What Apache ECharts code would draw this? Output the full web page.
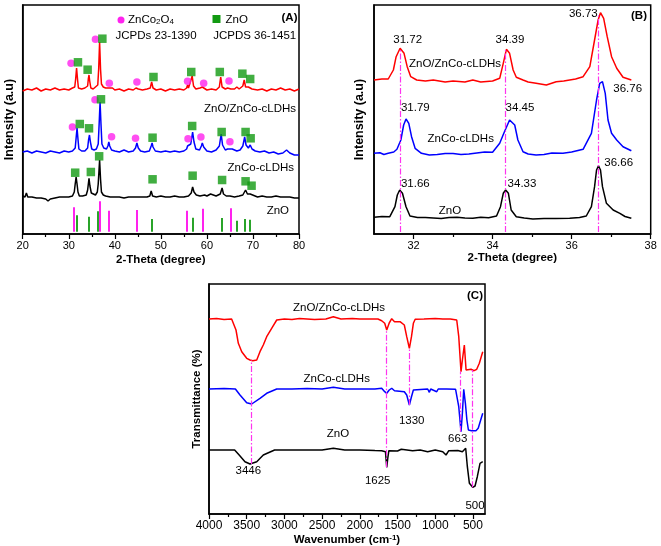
<!DOCTYPE html>
<html><head><meta charset="utf-8">
<script src="https://cdn.jsdelivr.net/npm/echarts@6/dist/echarts.min.js"></script>
<style>html,body{margin:0;padding:0;background:#fff}#c{width:661px;height:546px}</style>
</head><body><div id="c"></div>
<script>
// ---------- Panel A : XRD 20-80 ----------
const ticksA = [20,30,40,50,60,70,80];
const redA = [20,143, 21,145, 22,144, 23,146, 24,143, 25,145, 26,144, 27,146, 28,144, 29,145, 30,144, 30.8,146, 31.3,147, 31.5,155, 31.7,166, 31.9,155, 32.1,146, 32.8,145, 33.5,146, 34.1,148, 34.25,155, 34.4,159, 34.55,153, 34.8,146, 35.3,145, 35.8,147, 36.3,149, 36.5,165, 36.7,192, 36.9,165, 37.1,150, 37.5,147, 38.0,146, 38.5,146, 38.7,148, 38.9,145, 39.5,146, 40,144, 41,145, 42,143, 43,145, 44,144, 44.6,146, 44.8,147, 45.1,145, 46,144, 47,145, 47.7,146, 48.0,152, 48.3,146, 49,144, 50,145, 51,143, 52,145, 53,144, 54,145, 55,144, 55.6,146, 55.8,149, 56.0,146, 56.4,148, 56.8,158, 57.1,148, 57.6,145, 58.5,146, 59.0,147, 59.4,145, 60,144, 61,145, 62,144, 62.7,147, 63.0,157, 63.3,147, 64,145, 64.5,146, 64.8,147, 65.2,145, 66,145, 66.5,147, 67,145, 67.8,148, 68.1,154, 68.4,147, 69.0,147, 69.4,149, 69.8,145, 71,144, 72,145, 73,143, 74,145, 75,144, 76,146, 77,144, 78,145, 79,143, 80,145];
const blueA = [20,82, 21,83, 22,81, 23,83, 24,82, 25,81, 26,83, 27,82, 28,81, 29,83, 30,82, 30.8,83, 31.4,86, 31.6,96, 31.8,106, 32.0,95, 32.2,85, 32.8,83, 33.5,83, 34.1,86, 34.3,94, 34.5,99, 34.7,92, 35.0,85, 35.5,84, 36.0,85, 36.4,90, 36.6,110, 36.8,132, 37.0,110, 37.2,90, 37.6,86, 38.2,85, 38.5,88, 38.7,92, 38.9,88, 39.3,84, 40,83, 41,82, 42,84, 43,82, 44,83, 44.5,86, 44.8,91, 45.1,86, 45.6,83, 46.5,82, 47.5,83, 47.9,88, 48.1,91, 48.3,87, 48.8,83, 50,82, 51,83, 52,82, 53,83, 54,82, 55,83, 55.6,85, 55.8,88, 56.1,86, 56.5,90, 56.9,102, 57.2,92, 57.6,85, 58.4,84, 58.8,88, 59.0,91, 59.3,87, 60,83, 61,82, 62,84, 62.7,88, 63.1,100, 63.4,89, 64,84, 64.5,85, 64.9,86, 65.5,85, 66,84, 66.5,83, 67.2,84, 67.8,88, 68.2,97, 68.5,89, 69.0,86, 69.4,89, 69.8,85, 70.5,83, 71.5,82, 72.5,83, 73.5,81, 74.5,82, 75.5,80, 76.5,81, 77.3,84, 78,81, 79,79, 80,79];
const blackA = [20,38, 20.5,37, 20.8,41, 21.1,37, 22,37, 23,36, 24,36, 25,35, 25.5,33, 26,35, 27,36, 28,37, 29,37, 30,37, 30.8,38, 31.2,42, 31.4,50, 31.6,57, 31.8,50, 32.0,42, 32.3,38, 33,38, 33.8,39, 34.1,44, 34.4,55.7, 34.6,48, 34.9,41, 35.3,39, 35.8,39, 36.2,42, 36.4,50, 36.7,74, 36.9,55, 37.1,42, 37.5,39, 38,38, 39,37, 40,37, 41,37, 42,36, 43,37, 44,37, 45,37, 46,37, 47,37, 47.6,38, 47.9,43, 48.2,38, 49,37, 50,38, 51,37, 52,37, 53,38, 54,37, 55,37, 56,38, 56.6,41, 56.9,47, 57.2,42, 57.7,39, 58.5,38, 59.5,39, 60,38, 60.8,40, 61.2,38, 62,38, 62.9,40, 63.3,46, 63.6,40, 64.2,38, 65,38, 66,37, 67,38, 67.8,39, 68.4,44, 68.8,40, 69.4,40, 69.8,38, 71,37, 72,38, 73,37, 74,37, 75,38, 76,37, 77,37, 78,37, 79,36, 80,36];
// reference sticks
const stickBase = 2.3;
const magStickX = [31.1, 36.8, 38.6, 44.8, 55.6, 59.2, 65.1];
const magStickH = [26.7, 32.7, 23.3, 24.0, 23.3, 25.3, 25.7];
const grnStickX = [31.7, 34.4, 36.3, 48.0, 56.9, 63.3, 66.5, 68.2, 69.2];
const grnStickH = [18.7, 17.3, 22.7, 15.0, 16.3, 16.0, 13.3, 15.0, 14.3];
// phase markers (x, y)
const circRed = [30.5,170.7, 35.8,194.7, 38.8,150.7, 44.8,152, 55.8,152.7, 59.3,150.7, 64.8,153];
const sqRed = [32.0,171.7, 34.1,164.3, 37.3,195.3, 48.4,157, 56.6,162, 62.8,162, 67.7,160.3, 69.4,155];
const circBlue = [30.8,107, 35.7,134.3, 39.3,97.3, 44.5,95.7, 55.9,95.3, 58.7,97, 65.0,92.3];
const sqBlue = [32.4,110, 34.4,105.7, 37.0,134.7, 48.2,96.3, 56.8,108, 63.2,102, 68.4,102, 69.5,95.7];
const sqBlack = [31.4,61.3, 34.8,62, 36.6,77.7, 48.2,54.7, 56.9,58.3, 63.3,54, 68.4,52.7, 69.7,48.3];

// ---------- Panel B : XRD zoom 31-38 ----------
const ticksB = [32, 34, 36, 38];
const minorB = [33, 35, 37];
const redB = [31.0,154, 31.2,155, 31.36,155, 31.49,164, 31.56,177.3, 31.66,185.7, 31.76,180.7, 31.84,167.3, 31.93,157.3, 32.08,154, 32.3,153, 32.5,154, 32.8,152, 33.0,153, 33.3,152, 33.5,154, 33.7,152, 34.0,153, 34.18,155.7, 34.27,170.7, 34.35,184.7, 34.43,180.7, 34.52,164, 34.60,156.7, 34.77,154, 34.9,152, 35.1,150.7, 35.36,149, 35.61,152.3, 35.8,153, 35.95,154, 36.1,155, 36.29,157.3, 36.46,167.3, 36.58,194, 36.67,214, 36.73,221.3, 36.81,215.7, 36.90,197.3, 37.01,177.3, 37.14,165.7, 37.30,156.7, 37.51,154];
const blueB = [31.0,80.7, 31.15,81.3, 31.25,79.5, 31.36,80.7, 31.5,82, 31.58,84.7, 31.68,94, 31.75,109, 31.81,115, 31.88,110.7, 31.95,97.3, 32.04,85.7, 32.2,80.7, 32.4,79, 32.6,79.5, 32.8,80.5, 33.0,80.5, 33.2,79.5, 33.4,80, 33.6,81, 33.8,82, 34.0,81.7, 34.18,90.7, 34.3,102.3, 34.43,114, 34.47,115, 34.56,109, 34.64,94, 34.77,82.3, 34.9,80, 35.1,79, 35.3,79.5, 35.5,81, 35.78,80.7, 36.0,82, 36.29,84.7, 36.5,100.7, 36.63,134, 36.71,150.7, 36.78,152.3, 36.85,140.7, 36.92,114, 37.01,100.7, 37.14,94, 37.30,87.3, 37.51,83.3];
const blackB = [31.0,16.7, 31.2,17.5, 31.40,17.3, 31.53,27.3, 31.59,39, 31.65,44, 31.72,40.7, 31.81,27.3, 31.91,18, 32.1,16.5, 32.3,16.5, 32.5,16, 32.7,15.5, 32.9,16.5, 33.1,16.7, 33.3,16, 33.5,15.8, 33.7,16.8, 33.9,16.3, 34.1,18, 34.2,27.3, 34.27,40.7, 34.33,44, 34.40,40.7, 34.47,24, 34.6,17.3, 34.8,16, 35.02,15, 35.3,15.5, 35.6,15.5, 35.95,15.7, 36.2,16.5, 36.37,18, 36.5,27.3, 36.58,47.3, 36.63,64, 36.68,68.3, 36.73,64, 36.78,47.3, 36.88,30.7, 37.05,24, 37.22,20.7, 37.35,17.5, 37.51,15.7];
const guideB = [[31.66, 2, 185], [34.33, 2, 184], [36.67, 2, 220]];

// ---------- Panel C : FTIR ----------
const ticksC = [4000, 3500, 3000, 2500, 2000, 1500, 1000, 500];
const minorC = [3750, 3250, 2750, 2250, 1750, 1250, 750];
const redC = [4000,195, 3900,195.5, 3800,194.5, 3700,195, 3680,194.7, 3642,184, 3611,170.7, 3566,162.3, 3500,155.7, 3456,154, 3420,153.3, 3367,154, 3324,162.3, 3280,169, 3235,177.3, 3169,185.7, 3102,194, 3000,195, 2900,194.5, 2800,195.5, 2700,195, 2600,194.5, 2450,195, 2351,197.3, 2250,195, 2100,195.5, 2000,195, 1900,195, 1760,195, 1710,193.3, 1670,190.7, 1643,184, 1610,191, 1577,195.3, 1540,192.3, 1467,192.3, 1410,189, 1378,177.3, 1343,165.7, 1315,177.3, 1290,190.7, 1266,194.7, 1150,195, 1000,195.5, 900,195, 800,195, 715,194, 688,177.3, 658,142.3, 640,154, 614,169, 591,144, 570,142.3, 525,144.7, 485,143.3, 450,144.7, 415,150.7, 370,162.3];
const blueC = [4000,125, 3800,125.5, 3650,125, 3589,119, 3500,111.3, 3434,110, 3324,115.7, 3235,120.7, 3102,125, 2900,125, 2700,125.5, 2500,125, 2351,126.7, 2200,125, 2000,125, 1800,125, 1710,125.7, 1670,122.3, 1643,120.7, 1610,124, 1577,125.7, 1540,123.3, 1410,122.3, 1378,119, 1343,109, 1315,117.3, 1290,124, 1266,124.7, 1100,125, 1078,121.7, 1060,125, 980,122.3, 960,125, 850,125, 730,124.7, 715,124, 688,107.3, 658,82.3, 640,100.7, 622,124.7, 600,110.7, 580,94, 560,84, 520,83.3, 460,83.3, 430,85.7, 410,90.7, 370,100.7];
const blackC = [4000,64, 3800,64, 3660,64, 3600,59, 3523,52.3, 3456,50, 3367,52.3, 3280,59, 3130,64, 2900,64, 2700,64, 2500,64, 2351,65.7, 2200,64, 2000,64, 1800,63.5, 1710,63.3, 1660,62.3, 1655,57.3, 1643,46.7, 1630,55.3, 1615,63.3, 1500,63, 1450,64.7, 1300,63.3, 1200,64, 1100,62.3, 1000,64, 900,62.3, 857,59, 820,63.3, 700,63.5, 640,62.3, 596,65.7, 574,47.3, 547,30.7, 503,26.7, 472,28, 442,37.3, 406,50.7, 370,52.3];
const guideC = [[3434, 50, 154], [1643, 46.7, 184], [1343, 109, 165.7], [662, 82.3, 142.3], [503, 26.7, 144]];

// ---------- helpers ----------
const pairs = a => { const r = []; for (let i = 0; i < a.length; i += 2) r.push([a[i], a[i+1]]); return r; };
const FONT = 'Arial, "Liberation Sans", sans-serif';
const RED = '#ff0000', BLUE = '#0000ff', BLACK = '#000000', MAG = '#ff22ee', GRN = '#129a12', DASH = '#ff33ee';

function curve(data, color, xi, yi) {
  return { type: 'line', data: pairs(data), xAxisIndex: xi, yAxisIndex: yi, showSymbol: false, symbol: 'none',
    lineStyle: { color: color, width: 1.5 }, itemStyle: { color: color }, z: 3, silent: true };
}
function scat(data, symbol, color, xi, yi, size) {
  return { type: 'scatter', data: pairs(data), xAxisIndex: xi, yAxisIndex: yi, symbol: symbol, symbolSize: size,
    itemStyle: { color: color }, z: 5, silent: true };
}
function vlines(list, color, width, type, xi, yi) {
  return { type: 'line', data: [], xAxisIndex: xi, yAxisIndex: yi, silent: true, z: 2,
    markLine: { silent: true, symbol: ['none', 'none'], label: { show: false }, animation: false,
      lineStyle: { color: color, width: width, type: type },
      data: list.map(v => [{ coord: [v[0], v[1]] }, { coord: [v[0], v[2]] }]) } };
}
const sticksMag = magStickX.map((x, i) => [x, stickBase, magStickH[i]]);
const sticksGrn = grnStickX.map((x, i) => [x, stickBase, grnStickH[i]]);
const dashDot = [6, 2, 1.5, 2];

const axisLineS = { show: true, lineStyle: { color: '#000', width: 1.5 } };
const nameStyle = { fontFamily: FONT, fontWeight: 'bold', fontSize: 11.5, color: '#000' };
const labStyle = { fontFamily: FONT, fontSize: 11, color: '#000', margin: 6, formatter: v => String(v) };

function mkText(t, x, y, opts) {
  return Object.assign({ type: 'text', silent: true, z: 10,
    style: Object.assign({ text: t, x: x, y: y, fill: '#000', font: '11.5px ' + FONT, align: 'center', verticalAlign: 'middle' }, opts || {}) });
}

const option = {
  animation: false,
  backgroundColor: '#fff',
  grid: [
    { left: 22.7, right: 362, top: 5, bottom: 312, show: true, borderColor: '#000', borderWidth: 1.5, containLabel: false, outerBoundsMode: 'none' },
    { left: 374, right: 10.3, top: 5, bottom: 312, show: true, borderColor: '#000', borderWidth: 1.5, containLabel: false, outerBoundsMode: 'none' },
    { left: 209, right: 176, top: 284, bottom: 32, show: true, borderColor: '#000', borderWidth: 1.5, containLabel: false, outerBoundsMode: 'none' }
  ],
  xAxis: [
    { gridIndex: 0, type: 'value', min: ticksA[0], max: ticksA[ticksA.length-1], interval: 10, position: 'bottom',
      axisLine: axisLineS, axisTick: { show: true, inside: false, length: 5, lineStyle: { color: '#000', width: 1.2 } },
      minorTick: { show: true, splitNumber: 2, length: 3, lineStyle: { color: '#000', width: 1.2 } },
      axisLabel: labStyle, splitLine: { show: false }, minorSplitLine: { show: false },
      name: '2-Theta (degree)', nameLocation: 'middle', nameGap: 20, nameTextStyle: nameStyle },
    { gridIndex: 1, type: 'value', min: 31, max: 38, position: 'bottom',
      axisLine: axisLineS, axisTick: { show: true, length: 5, customValues: ticksB, lineStyle: { color: '#000', width: 1.2 } },
      axisLabel: Object.assign({ customValues: ticksB }, labStyle), splitLine: { show: false },
      name: '2-Theta (degree)', nameLocation: 'middle', nameGap: 18, nameTextStyle: nameStyle },
    { gridIndex: 1, type: 'value', min: 31, max: 38, position: 'bottom',
      axisLine: { show: false }, axisTick: { show: true, length: 3, customValues: minorB, lineStyle: { color: '#000', width: 1.2 } },
      axisLabel: { show: false }, splitLine: { show: false } },
    { gridIndex: 2, type: 'value', min: 340, max: 4000, inverse: true, position: 'bottom',
      axisLine: axisLineS, axisTick: { show: true, length: 5, customValues: ticksC, lineStyle: { color: '#000', width: 1.2 } },
      axisLabel: Object.assign({ customValues: ticksC }, labStyle, { fontSize: 12, margin: 6 }), splitLine: { show: false },
      name: 'Wavenumber (cm{sup|-1})', nameLocation: 'middle', nameGap: 20,
      nameTextStyle: Object.assign({}, nameStyle, { rich: { sup: { fontFamily: FONT, fontWeight: 'bold', fontSize: 8, verticalAlign: 'top', lineHeight: 8, padding: [0, 0, 6, 0] } } }) },
    { gridIndex: 2, type: 'value', min: 340, max: 4000, inverse: true, position: 'bottom',
      axisLine: { show: false }, axisTick: { show: true, length: 3, customValues: minorC, lineStyle: { color: '#000', width: 1.2 } },
      axisLabel: { show: false }, splitLine: { show: false } }
  ],
  yAxis: [
    { gridIndex: 0, type: 'value', min: 0, max: 229, axisLine: axisLineS, axisTick: { show: false }, axisLabel: { show: false }, splitLine: { show: false },
      name: 'Intensity (a.u)', nameLocation: 'middle', nameRotate: 90, nameGap: 7, nameTextStyle: Object.assign({}, nameStyle, { fontSize: 12.5 }) },
    { gridIndex: 1, type: 'value', min: 0, max: 229, axisLine: axisLineS, axisTick: { show: false }, axisLabel: { show: false }, splitLine: { show: false },
      name: 'Intensity (a.u)', nameLocation: 'middle', nameRotate: 90, nameGap: 8, nameTextStyle: Object.assign({}, nameStyle, { fontSize: 12.5 }) },
    { gridIndex: 2, type: 'value', min: 0, max: 230, axisLine: axisLineS, axisTick: { show: false }, axisLabel: { show: false }, splitLine: { show: false },
      name: 'Transmittance (%)', nameLocation: 'middle', nameRotate: 90, nameGap: 6, nameTextStyle: nameStyle }
  ],
  series: [
    // Panel A
    vlines(sticksMag, MAG, 2, 'solid', 0, 0),
    vlines(sticksGrn, GRN, 1.8, 'solid', 0, 0),
    curve(redA, RED, 0, 0), curve(blueA, BLUE, 0, 0), curve(blackA, BLACK, 0, 0),
    scat(circRed, 'circle', MAG, 0, 0, 7.5), scat(sqRed, 'rect', GRN, 0, 0, 8.5),
    scat(circBlue, 'circle', MAG, 0, 0, 7.5), scat(sqBlue, 'rect', GRN, 0, 0, 8.5),
    scat(sqBlack, 'rect', GRN, 0, 0, 8.5),
    // Panel B
    vlines(guideB, DASH, 1.2, dashDot, 1, 1),
    curve(redB, RED, 1, 1), curve(blueB, BLUE, 1, 1), curve(blackB, BLACK, 1, 1),
    // Panel C
    vlines(guideC, DASH, 1.2, dashDot, 3, 2),
    curve(redC, RED, 3, 2), curve(blueC, BLUE, 3, 2), curve(blackC, BLACK, 3, 2)
  ],
  graphic: [
    // Panel A legend and labels
    { type: 'circle', shape: { cx: 121, cy: 20, r: 3.5 }, style: { fill: MAG }, silent: true },
    mkText('ZnCo{s|2}O{s|4}', 128, 20, { align: 'left', rich: { s: { fontSize: 8, fontFamily: FONT, verticalAlign: 'bottom', lineHeight: 8, padding: [6, 0, 0, 0] } } }),
    mkText('JCPDs 23-1390', 156, 36),
    { type: 'rect', shape: { x: 212.5, y: 15, width: 8, height: 8 }, style: { fill: GRN }, silent: true },
    mkText('ZnO', 225.5, 19.5, { align: 'left' }),
    mkText('JCPDS 36-1451', 254.7, 36),
    mkText('(A)', 289.5, 17.5, { font: 'bold 11.5px ' + FONT }),
    mkText('ZnO/ZnCo-cLDHs', 296, 109, { align: 'right' }),
    mkText('ZnCo-cLDHs', 294, 168, { align: 'right' }),
    mkText('ZnO', 289, 211, { align: 'right' }),
    // Panel B
    mkText('31.72', 407.7, 40), mkText('34.39', 510, 40), mkText('36.73', 583.3, 13.5),
    mkText('ZnO/ZnCo-cLDHs', 455, 64),
    mkText('31.79', 415.3, 107.7), mkText('34.45', 520, 107.7), mkText('36.76', 627.7, 89.3),
    mkText('ZnCo-cLDHs', 460.7, 139.3),
    mkText('31.66', 415.3, 184), mkText('34.33', 522, 184), mkText('36.66', 618.7, 163.3),
    mkText('ZnO', 450, 210.7),
    mkText('(B)', 639, 15.5, { font: 'bold 11.5px ' + FONT }),
    // Panel C
    mkText('ZnO/ZnCo-cLDHs', 339, 308.3),
    mkText('ZnCo-cLDHs', 336.7, 379.3),
    mkText('ZnO', 338, 434),
    mkText('3446', 248.3, 471),
    mkText('1625', 377.7, 481),
    mkText('1330', 411.7, 420.7),
    mkText('663', 457.7, 439.3),
    mkText('500', 475, 506),
    mkText('(C)', 475, 295.5, { font: 'bold 11.5px ' + FONT })
  ]
};

const chart = echarts.init(document.getElementById('c'), null, { renderer: 'canvas' });
chart.setOption(option);
</script></body></html>
